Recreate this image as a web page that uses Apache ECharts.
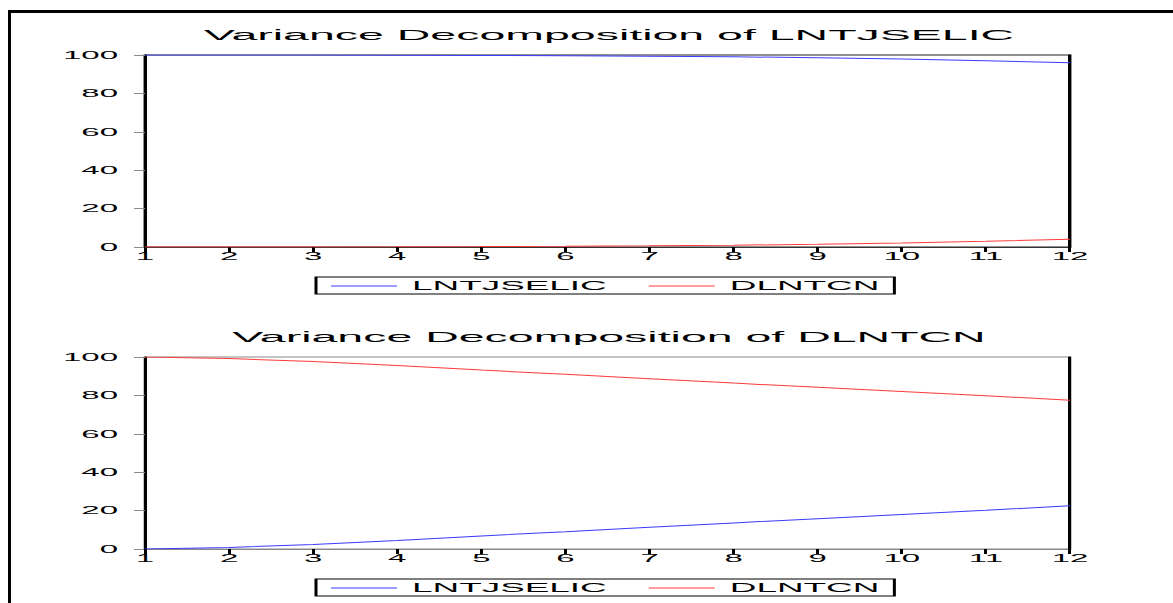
<!DOCTYPE html>
<html>
<head>
<meta charset="utf-8">
<script src="https://cdn.jsdelivr.net/npm/echarts@6/dist/echarts.min.js"></script>
<style>
html,body{margin:0;padding:0;background:#fff;overflow:hidden;}
#wrap{width:1173px;height:603px;overflow:hidden;position:relative;}
#chart{width:391px;height:603px;transform:scaleX(3);transform-origin:0 0;}
</style>
</head>
<body>
<div id="wrap"><div id="chart"></div></div>
<script>
// ---- data ----
const periods = [1, 2, 3, 4, 5, 6, 7, 8, 9, 10, 11, 12];
const seriesNames = ['LNTJSELIC', 'DLNTCN'];
const titles = ['Variance Decomposition of LNTJSELIC', 'Variance Decomposition of DLNTCN'];
// Panel 1: variance decomposition of LNTJSELIC
const p1LNTJSELIC = [100, 99.98, 99.95, 99.9, 99.8, 99.65, 99.4, 99.05, 98.6, 97.9, 97.0, 95.9];
const p1DLNTCN    = [0, 0.02, 0.05, 0.1, 0.2, 0.35, 0.6, 0.95, 1.4, 2.1, 3.0, 4.1];
// Panel 2: variance decomposition of DLNTCN
const p2LNTJSELIC = [0, 0.8, 2.4, 4.4, 6.8, 9.0, 11.3, 13.6, 15.8, 18.0, 20.2, 22.5];
const p2DLNTCN    = [100, 99.2, 97.6, 95.6, 93.2, 91.0, 88.7, 86.4, 84.2, 82.0, 79.8, 77.5];
const yTicks = [0, 20, 40, 60, 80, 100];

// ---- layout (chart drawn at 1/3 width and stretched 3x horizontally) ----
const S = 3;
const W = 1173 / S;
const FONT = 'Liberation Sans, Arial, sans-serif';
const BLUE = '#3c3cff';
const RED = '#ff3c3c';
const panelTops = [55, 357];
const plotH = 192;
const plotLeft = 145 / S;
const plotRight = (1173 - 1070) / S;

const pairs = (ys) => periods.map((p, i) => [p, ys[i]]);

const grids = panelTops.map((t, i) => ({
  left: plotLeft, right: plotRight, top: t, height: plotH,
  show: true, borderWidth: 1, borderColor: i === 0 ? '#222' : '#8a8a8a',
  backgroundColor: 'transparent'
}));

const xAxes = panelTops.map((t, i) => ({
  gridIndex: i, type: 'value', min: periods[0], max: periods[periods.length - 1], interval: 1,
  axisLine: {show: true, onZero: false, lineStyle: {color: i === 0 ? '#333' : '#888', width: 1}},
  axisTick: {show: true, length: 5, lineStyle: {color: '#000', width: 1}},
  axisLabel: {fontSize: 11, color: '#000', fontFamily: FONT, margin: 4},
  splitLine: {show: false}
}));

const yAxes = [];
panelTops.forEach((t, i) => {
  yAxes.push({
    gridIndex: i, type: 'value', min: yTicks[0], max: yTicks[yTicks.length - 1], interval: 20,
    axisLine: {show: true, lineStyle: {color: '#000', width: 1}},
    axisTick: {show: true, length: 11 / S, lineStyle: {color: '#8a8a8a', width: 1}},
    axisLabel: {fontSize: 11, color: '#000', fontFamily: FONT, margin: 9},
    splitLine: {show: false}
  });
  yAxes.push({
    gridIndex: i, type: 'value', position: 'right', min: yTicks[0], max: yTicks[yTicks.length - 1], interval: 20,
    axisLine: {show: true, lineStyle: {color: '#000', width: 1}},
    axisTick: {show: false}, axisLabel: {show: false}, splitLine: {show: false}
  });
});

const panelData = [[p1LNTJSELIC, p1DLNTCN], [p2LNTJSELIC, p2DLNTCN]];
const colors = [BLUE, RED];
const series = [];
panelData.forEach((pd, i) => {
  pd.forEach((ys, k) => {
    series.push({
      name: seriesNames[k], type: 'line', xAxisIndex: i, yAxisIndex: i * 2,
      data: pairs(ys), symbol: 'none', showSymbol: false,
      lineStyle: {color: colors[k], width: 1}, itemStyle: {color: colors[k]},
      z: 5, silent: true
    });
  });
});

const titleTops = [22, 324];
const title = titles.map((txt, i) => ({
  text: txt, left: 609 / S - 5, top: titleTops[i], textAlign: 'center',
  textStyle: {fontSize: 15.5, fontWeight: 'normal', color: '#000', fontFamily: FONT}
}));

const legendTops = [277, 579];
const legend = legendTops.map((t) => ({
  data: seriesNames, left: 316 / S, top: t, orient: 'horizontal',
  icon: 'rect', itemWidth: 22, itemHeight: 1, itemGap: 14, padding: [3, 5, 2, 5],
  borderColor: '#000', borderWidth: 1, backgroundColor: '#fff',
  textStyle: {fontSize: 12.3, color: '#000', fontFamily: FONT},
  selectedMode: false
}));

const frame = [
  {type: 'line', shape: {x1: 9.5 / S, y1: 10, x2: 9.5 / S, y2: 603}, style: {stroke: '#000', lineWidth: 1}, silent: true},
  {type: 'line', shape: {x1: 8 / S, y1: 11.5, x2: W, y2: 11.5}, style: {stroke: '#000', lineWidth: 3}, silent: true}
];

const chart = echarts.init(document.getElementById('chart'), null, {renderer: 'svg', width: W, height: 603});
chart.setOption({
  animation: false,
  backgroundColor: '#fff',
  title: title,
  legend: legend,
  grid: grids,
  xAxis: xAxes,
  yAxis: yAxes,
  series: series,
  graphic: frame
});
</script>
</body>
</html>
